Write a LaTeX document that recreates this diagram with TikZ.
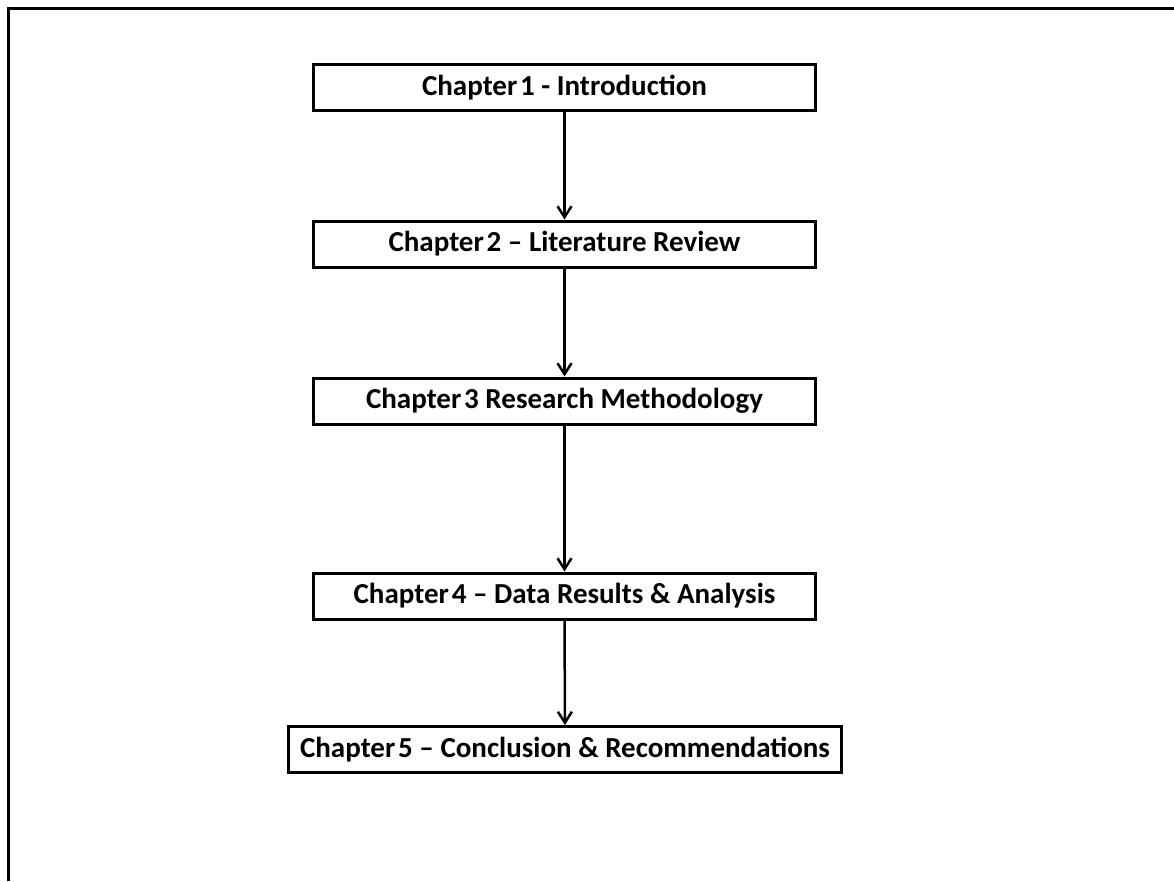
\documentclass[tikz,border=0pt]{standalone}
\usepackage{fontspec}
\setmainfont{Carlito}
\usetikzlibrary{arrows.meta}
% chapter label with the tight gap between the word and its number
\newcommand{\chap}[1]{Chapter\hspace{0.1em}#1}
\tikzset{
  chapbox/.style={draw, line width=3pt, minimum height=46pt, inner sep=0pt,
    font=\fontsize{29}{34}\selectfont\bfseries, text=black},
  flow/.style={line width=2.5pt, -{Straight Barb[length=11pt,width=14pt,line width=2.5pt]}}
}
\begin{document}
\begin{tikzpicture}[x=1pt,y=-1pt]
  \useasboundingbox (0,0) rectangle (1174,881);
  % page frame, only the top and left edges are inside the sheet
  \draw[line width=3pt] (8,881) -- (8,8) -- (1174,8);
  % chapter boxes
  \node[chapbox, minimum width=502pt] (c1) at (564.5,87.5) {\chap{1} - Introduction};
  \node[chapbox, minimum width=502pt] (c2) at (564.5,244) {\chap{2} -- Literature Review};
  \node[chapbox, minimum width=502pt] (c3) at (564.5,401) {\chap{3} Research Methodology};
  \node[chapbox, minimum width=502pt] (c4) at (564.5,596) {\chap{4} -- Data Results \& Analysis};
  \node[chapbox, minimum width=553pt] (c5) at (565,749.5) {\chap{5} -- Conclusion \& Recommendations};
  % connectors
  \draw[flow] (c1) -- (c2);
  \draw[flow] (c2) -- (c3);
  \draw[flow] (c3) -- (c4);
  \draw[flow] (c4) -- (c5);
\end{tikzpicture}
\end{document}
